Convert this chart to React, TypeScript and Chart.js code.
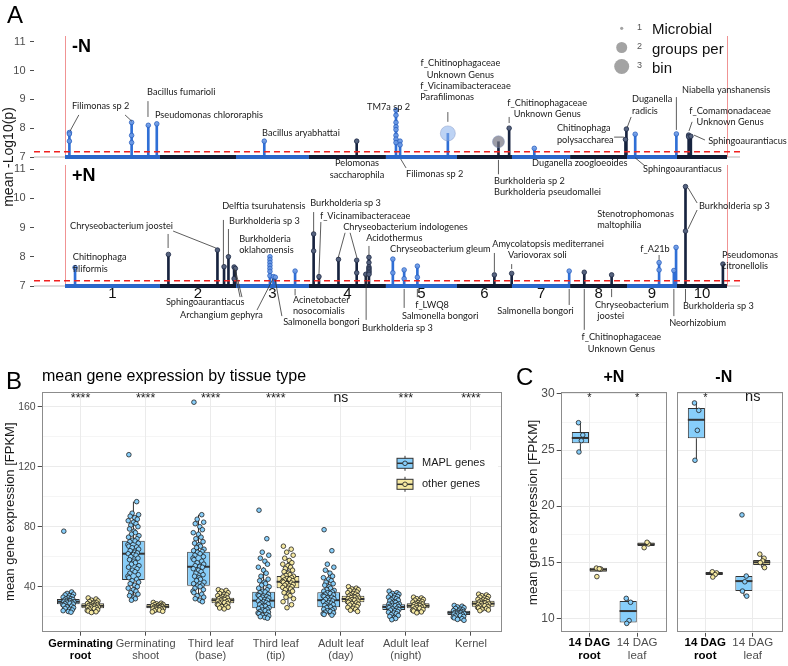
import React, { useEffect, useRef } from 'react';
import { Chart, registerables } from 'chart.js';

Chart.register(...registerables);

const SANS = '"Liberation Sans", Arial, Helvetica, sans-serif';
const ANNOT_FAMILY = 'Lato, "Open Sans", sans-serif';
const ANNOT_SIZE = 9.2;
const ANNOT_LINE = 11.5;

// ================= Panel A data =================
const CHR_NAMES = ['1', '2', '3', '4', '5', '6', '7', '8', '9', '10'];
const CHR_LENGTHS_MB = [302, 242, 232, 245, 226, 175, 185, 181, 159, 159];
const LOG_P_THRESHOLD = 7.18;
const LOG_P_TICKS = [7, 8, 9, 10, 11];
const GROUP_LEGEND = [1, 2, 3];

// -N peaks: cumulative genome position (Mb), -log10(p) values of the points, microbial groups per bin
const MINUS_N_POS_MB = [14, 212, 265, 292, 634, 928, 1053, 1066, 1218, 1379, 1413, 1493, 1783, 1786, 1814, 1945, 1984, 1991];
const MINUS_N_LOGP = [
  [7.85, 7.8, 7.55], [8.2, 7.75, 7.5], [8.1], [8.15], [7.55], [7.55],
  [8.63, 8.45, 8.2, 8.05, 7.95, 7.75, 7.62, 7.5], [7.55, 7.42], [7.82], [7.53], [8.0], [7.3],
  [7.61], [7.97], [7.79], [7.8], [7.76, 7.7], [7.72],
];
const MINUS_N_GROUPS = [1, 1, 1, 1, 1, 1, 1, 1, 3, 2, 1, 1, 1, 1, 1, 1, 1, 1];

// +N peaks
const PLUS_N_POS_MB = [32, 329, 485, 506, 520, 538, 542, 652, 663, 669, 732, 791, 808, 870, 928, 957, 967, 1043, 1079, 1121, 1366, 1421, 1604, 1652, 1739, 1890, 1937, 1944, 1974, 2093];
const PLUS_N_LOGP = [
  [7.63], [8.08], [8.23], [7.66], [8.0], [7.65, 7.25], [7.6],
  [8.0, 7.9, 7.8, 7.7, 7.6, 7.5, 7.35], [7.32], [7.3], [7.51], [8.78, 8.2], [7.32], [7.91],
  [7.88, 7.45], [7.4], [7.98, 7.8, 7.65, 7.6, 7.55, 7.5, 7.45, 7.4], [7.92, 7.45], [7.55, 7.25],
  [7.68, 7.3], [7.38], [7.43], [7.51], [7.47], [7.38], [7.8, 7.55], [7.53], [8.32], [10.4, 8.88], [7.75],
];
const PLUS_N_GROUPS = PLUS_N_POS_MB.map(() => 1);

type Label = { t: string[]; x: number; y: number; a?: string; ld?: number[][] };

// annotation texts (anchored in data units: Mb, -log10 p)
const MINUS_N_LABELS: Label[] = [
  { t: ['Filimonas sp 2'], x: 22, y: 8.77, ld: [[44, 8.46, 16, 7.9], [191, 8.46, 213, 8.24]] },
  { t: ['Bacillus fumarioli'], x: 261, y: 9.26, ld: [[264, 8.94, 264, 8.39]] },
  { t: ['Pseudomonas chlororaphis'], x: 286, y: 8.46 },
  { t: ['Bacillus aryabhattai'], x: 627, y: 7.83 },
  { t: ['Pelomonas', 'saccharophila'], x: 929, y: 6.79, a: 'center' },
  { t: ['TM7a sp 2'], x: 961, y: 8.74 },
  { t: ['Filimonas sp 2'], x: 1085, y: 6.41, ld: [[1068, 6.93, 1085, 6.62]] },
  { t: ['f_Chitinophagaceae', 'Unknown Genus'], x: 1258, y: 10.26, a: 'center' },
  { t: ['f_Vicinamibacteraceae', 'Parafilimonas'], x: 1130, y: 9.47, ld: [[1218, 8.56, 1218, 8.22]] },
  { t: ['Burkholderia sp 2', 'Burkholderia pseudomallei'], x: 1365, y: 6.17, ld: [[1379, 6.9, 1379, 6.4]] },
  { t: ['f_Chitinophagaceae', 'Unknown Genus'], x: 1534, y: 8.875, a: 'center', ld: [[1413, 8.39, 1413, 8.18]] },
  { t: ['Duganella zoogloeoides'], x: 1486, y: 6.79 },
  { t: ['Chitinophaga', 'polysaccharea'], x: 1565, y: 8.0, ld: [[1747, 7.69, 1778, 7.69]] },
  { t: ['Duganella', 'radicis'], x: 1804, y: 9.01, ld: [[1801, 8.39, 1789, 8.04]] },
  { t: ['Sphingoaurantiacus'], x: 1839, y: 6.58, ld: [[1814, 6.97, 1845, 6.69]] },
  { t: ['Niabella yanshanensis'], x: 1963, y: 9.33, ld: [[1945, 9.08, 1945, 7.94]] },
  { t: ['f_Comamonadaceae', 'Unknown Genus'], x: 2116, y: 8.6, a: 'center', ld: [[1995, 8.22, 1985, 7.9]] },
  { t: ['Sphingoaurantiacus'], x: 2046, y: 7.56, ld: [[2001, 7.76, 2036, 7.59]] },
];

const PLUS_N_LABELS: Label[] = [
  { t: ['Chitinophaga', 'filiformis'], x: 25, y: 7.99 },
  { t: ['Chryseobacterium joostei'], x: 16, y: 9.05, ld: [[328, 8.78, 328, 8.3], [344, 8.88, 480, 8.3]] },
  { t: ['Delftia tsuruhatensis'], x: 500, y: 9.74, ld: [[504, 9.26, 504, 7.72]] },
  { t: ['Burkholderia sp 3'], x: 522, y: 9.23, ld: [[520, 8.95, 520, 8.06]] },
  { t: ['Sphingoaurantiacus'], x: 321, y: 6.45, ld: [[538, 7.6, 557, 6.62], [542, 7.55, 563, 6.62]] },
  { t: ['Burkholderia', 'oklahomensis'], x: 554, y: 8.61 },
  { t: ['Archangium gephyra'], x: 366, y: 6.0, ld: [[611, 6.18, 662, 7.25]] },
  { t: ['Salmonella bongori'], x: 694, y: 5.77, ld: [[690, 5.97, 668, 7.25]] },
  { t: ['Acinetobacter', 'nosocomialis'], x: 725, y: 6.52, ld: [[732, 6.9, 732, 6.68]] },
  { t: ['Burkholderia sp 3'], x: 780, y: 9.84, ld: [[791, 9.53, 791, 8.85]] },
  { t: ['f_Vicinamibacteraceae'], x: 811, y: 9.4, ld: [[814, 9.19, 808, 7.4]] },
  { t: ['Chryseobacterium indologenes'], x: 885, y: 9.02, ld: [[891, 8.82, 869, 7.96], [907, 8.82, 929, 7.96]] },
  { t: ['Acidothermus'], x: 958, y: 8.64, ld: [[967, 8.37, 967, 8.06]] },
  { t: ['Burkholderia sp 3'], x: 945, y: 5.56, ld: [[958, 7.38, 958, 5.84]] },
  { t: ['Chryseobacterium gleum'], x: 1034, y: 8.27 },
  { t: ['Salmonella bongori'], x: 1072, y: 5.97, ld: [[1079, 6.9, 1079, 6.25]] },
  { t: ['f_LWQ8'], x: 1114, y: 6.35, ld: [[1121, 6.9, 1121, 6.62]] },
  { t: ['Amycolatopsis mediterranei'], x: 1359, y: 8.44, ld: [[1366, 8.13, 1366, 7.48]] },
  { t: ['Variovorax soli'], x: 1409, y: 8.06, ld: [[1421, 7.75, 1421, 7.58]] },
  { t: ['Salmonella bongori'], x: 1375, y: 6.14, ld: [[1604, 6.9, 1604, 6.35]] },
  { t: ['f_Chitinophagaceae', 'Unknown Genus'], x: 1770, y: 5.25, a: 'center', ld: [[1652, 6.9, 1652, 5.5]] },
  { t: ['Chryseobacterium', ' joostei'], x: 1686, y: 6.35, ld: [[1739, 6.9, 1739, 6.62]] },
  { t: ['f_A21b'], x: 1830, y: 8.27, ld: [[1890, 8.06, 1890, 7.89]] },
  { t: ['Neorhizobium'], x: 1922, y: 5.73, ld: [[1937, 6.9, 1937, 5.97]] },
  { t: ['Stenotrophomonas', 'maltophilia'], x: 1693, y: 9.47 },
  { t: ['Burkholderia sp 3'], x: 2017, y: 9.74, ld: [[2011, 9.84, 1982, 10.36], [2011, 9.6, 1982, 8.95]] },
  { t: ['Burkholderia sp 3'], x: 1966, y: 6.32, ld: [[1974, 6.9, 1974, 6.45]] },
  { t: ['Pseudomonas', 'citronellolis'], x: 2090, y: 8.06 },
];

// ================= Panel B data =================
const TISSUES = [
  ['Germinating', 'root'], ['Germinating', 'shoot'], ['Third leaf', '(base)'], ['Third leaf', '(tip)'],
  ['Adult leaf', '(day)'], ['Adult leaf', '(night)'], ['Kernel'],
];
const TISSUE_SIGNIF = ['****', '****', '****', '****', 'ns', '***', '****'];
const B_Y_TICKS = [20, 40, 60, 80, 100, 120, 140, 160];
// [lower whisker, q1, median, q3, upper whisker]
const MAPL_BOX = [
  [23, 28.3, 30, 31.8, 36.5], [31, 44.5, 62, 70.7, 96.7], [30, 40.7, 53.3, 63.3, 88], [19, 25.6, 30.7, 36.6, 53],
  [21, 26.3, 31, 36.3, 51], [18, 24.5, 26.5, 28.3, 34], [17.6, 21.1, 22.7, 24, 27.5],
];
const OTHER_BOX = [
  [22.8, 25.6, 27.3, 29, 32.5], [23.2, 25.6, 26.7, 28.5, 29.5], [25.2, 28.9, 31, 32.7, 38], [28, 38.9, 43.3, 47.1, 59],
  [23.5, 29.6, 31.8, 34, 40], [22.6, 25.6, 27.3, 29, 33], [24, 26.7, 28.7, 30.7, 35],
];
const MAPL_POINTS = [
  [77, 36.5, 35.5, 35, 34.5, 34, 33.5, 33, 32.5, 32, 31.8, 31.5, 31, 30.8, 30.5, 30.2, 30, 29.8, 29.5, 29.2, 29, 28.7, 28.4, 28, 27.5, 27, 26.5, 26, 25.5, 25, 24.5, 24, 23.5, 23],
  [128, 96.7, 89, 88, 87, 86, 85, 84, 83, 82, 81, 80, 78.5, 77, 76, 75, 74, 73, 72, 71, 70.5, 70, 69, 68, 67, 66.5, 66, 65, 64, 63, 62.5, 62, 61.5, 61, 60, 59, 58, 57, 56, 55, 54, 53, 52, 51, 50, 49, 48, 47, 46, 45, 44, 43, 42, 41, 40, 39, 38, 37, 36, 35, 34, 33, 32, 31],
  [163, 88, 85, 83, 82, 80, 78, 76, 75, 73, 72, 70, 69, 68, 67, 66, 65, 64, 63.5, 63, 62, 61, 60, 59, 58, 57, 56, 55, 54, 53.5, 53, 52, 51, 50, 49, 48, 47, 46, 45, 44, 43, 42, 41, 40.5, 40, 39, 38, 37, 36, 35, 34, 33, 32, 31, 30],
  [91, 72, 63, 61, 59, 57, 55, 53, 51, 49, 47, 45, 44, 43, 42, 41, 40, 39, 38, 37, 36.5, 36, 35, 34.5, 34, 33.5, 33, 32.5, 32, 31.5, 31, 30.5, 30, 29.5, 29, 28.5, 28, 27.5, 27, 26.5, 26, 25.5, 25, 24.5, 24, 23.5, 23, 22.5, 22, 21.5, 21, 20.5, 20, 19.5, 19],
  [78, 64, 55, 53, 51, 49, 47, 46, 45, 44, 43, 42, 41, 40, 39, 38, 37.5, 37, 36.5, 36, 35.5, 35, 34.5, 34, 33.5, 33, 32.5, 32, 31.5, 31, 30.5, 30, 29.5, 29, 28.5, 28, 27.5, 27, 26.5, 26, 25.5, 25, 24.5, 24, 23.5, 23, 22.5, 22, 21.5, 21],
  [37, 36, 35.5, 35, 34.5, 34, 33.5, 33, 32.5, 32, 31.5, 31, 30.5, 30, 29.5, 29, 28.6, 28.3, 28, 27.6, 27.3, 27, 26.7, 26.4, 26, 25.6, 25.2, 24.8, 24.4, 24, 23.5, 23, 22.5, 22, 21.4, 20.8, 20.2, 19.5, 18.8, 18],
  [27.5, 27, 26.5, 26, 25.5, 25, 24.5, 24.1, 23.8, 23.5, 23.2, 23, 22.8, 22.6, 22.4, 22.2, 22, 21.7, 21.4, 21.1, 20.8, 20.5, 20.1, 19.7, 19.2, 18.7, 18.2, 17.6],
];
const OTHER_POINTS = [
  [32.5, 31.8, 31, 30.5, 30, 29.5, 29.2, 28.8, 28.5, 28.2, 28, 27.7, 27.5, 27.2, 27, 26.7, 26.4, 26.2, 26, 25.7, 25.4, 25, 24.6, 24.2, 23.8, 23.3, 22.8],
  [29.5, 29, 28.6, 28.2, 28, 27.7, 27.4, 27.2, 27, 26.8, 26.6, 26.4, 26.2, 26, 25.8, 25.6, 25.4, 25.2, 25, 24.7, 24.4, 24, 23.6, 23.2],
  [38, 37.5, 37, 36, 35.5, 35, 34.5, 34, 33.5, 33, 32.7, 32.4, 32, 31.7, 31.4, 31, 30.7, 30.4, 30, 29.7, 29.4, 29, 28.6, 28.2, 27.8, 27.3, 26.8, 26.3, 25.8, 25.2],
  [67, 65, 63, 61, 59, 57.5, 56, 55, 54, 53, 52, 51, 50, 49, 48, 47.5, 47, 46.5, 46, 45.5, 45, 44.5, 44, 43.5, 43, 42.5, 42, 41.5, 41, 40.5, 40, 39.5, 39, 38.5, 38, 37, 36, 35, 34, 33, 32, 30, 28, 26],
  [40, 39, 38.5, 38, 37.5, 37, 36.5, 36, 35.5, 35, 34.5, 34, 33.7, 33.4, 33, 32.7, 32.4, 32, 31.7, 31.4, 31, 30.7, 30.4, 30, 29.6, 29.2, 28.8, 28.3, 27.8, 27.3, 26.8, 26.2, 25.6, 25, 24.3, 23.5],
  [33, 32.5, 32, 31.5, 31, 30.6, 30.2, 29.8, 29.4, 29, 28.7, 28.4, 28.1, 27.8, 27.5, 27.2, 26.9, 26.6, 26.3, 26, 25.6, 25.2, 24.8, 24.3, 23.8, 23.2, 22.6],
  [35, 34.5, 34, 33.5, 33, 32.5, 32, 31.6, 31.2, 30.8, 30.4, 30, 29.7, 29.4, 29.1, 28.8, 28.5, 28.2, 27.9, 27.6, 27.3, 27, 26.6, 26.2, 25.8, 25.4, 25, 24.5, 24],
];

// ================= Panel C data =================
const DAG_TISSUES = [['14 DAG', 'root'], ['14 DAG', 'leaf']];
const PLUS_N_SIGNIF = ['*', '*'];
const MINUS_N_SIGNIF = ['*', 'ns'];
const C_Y_TICKS = [10, 12.5, 15, 17.5, 20, 22.5, 25, 27.5, 30];
const C_PLUS_MAPL_BOX = [[24.83, 25.6, 26.08, 26.6, 27.44], [9.55, 9.64, 10.65, 11.55, 11.78]];
const C_PLUS_OTHER_BOX = [[14.16, 14.16, 14.34, 14.5, 14.5], [16.45, 16.45, 16.6, 16.75, 16.75]];
const C_MINUS_MAPL_BOX = [[24.09, 26.05, 27.7, 28.74, 29.2], [11.98, 12.43, 13.32, 13.77, 13.77]];
const C_MINUS_OTHER_BOX = [[13.86, 13.86, 14.0, 14.14, 14.14], [14.52, 14.76, 15.0, 15.21, 15.72]];
const C_PLUS_MAPL_PTS = [[27.44, 26.34, 25.84, 24.83], [11.78, 11.43, 9.8, 9.55]];
const C_PLUS_OTHER_PTS = [[14.48, 14.4, 14.42, 13.72], [16.3, 16.63, 16.78]];
const C_MINUS_MAPL_PTS = [[29.2, 28.54, 26.76, 24.09], [19.22, 13.77, 13.26, 12.43, 11.98]];
const C_MINUS_OTHER_PTS = [[14.15, 14.05, 13.9, 13.68], [15.72, 15.36, 15.12, 14.97, 14.52]];

// ================= layout / style =================
const B_JITTER = [-0.07, 0.05, -0.02, 0.08, -0.05, 0.02, 0.06, -0.08, 0.0, 0.04, -0.04, 0.07, -0.06, 0.01, 0.03, -0.03, 0.085, -0.075, 0.055, -0.015, 0.025, -0.055, 0.075, -0.085];
const C_JITTER = [-0.04, 0.05, 0.02, -0.03, 0.06, -0.06];
const DODGE = 0.1875;

const STEM_BLUE = '#2f6fd6';
const STEM_NAVY = '#17233f';
const PT_BLUE = 'rgba(110,155,230,0.9)';
const PT_NAVY = '#56637f';
const CHR_BLUE = '#2b67c9';
const CHR_NAVY = '#111b33';
const MAPL_FILL = '#87CEFA';
const OTHER_FILL = '#F6E9A2';
const POINT_EDGE = '#1f1f1f';

const CHR_STARTS: number[] = [];
let acc0 = 0;
CHR_LENGTHS_MB.forEach((l) => { CHR_STARTS.push(acc0); acc0 += l; });
const GENOME_MB = acc0;

function chrIndex(mb: number) {
  for (let i = CHR_STARTS.length - 1; i >= 0; i--) if (mb >= CHR_STARTS[i]) return i;
  return 0;
}

function line(ctx: any, x1: number, y1: number, x2: number, y2: number) {
  ctx.beginPath();
  ctx.moveTo(x1, y1);
  ctx.lineTo(x2, y2);
  ctx.stroke();
}

function manhattanPlugin(p: { title: string; labels: Label[]; isTop: boolean }) {
  return {
    id: 'manhattan',
    beforeDatasetsDraw(chart: any) {
      const { ctx, chartArea: ca, scales } = chart;
      const xs = scales.x, ys = scales.y;
      const y7 = ys.getPixelForValue(7);
      ctx.save();
      ctx.lineWidth = 1;
      ctx.strokeStyle = '#b5b5b5';
      line(ctx, ca.left, y7, ca.right, y7);
      ctx.strokeStyle = 'rgba(236,120,120,0.8)';
      [0, GENOME_MB].forEach((v) => {
        const px = Math.round(xs.getPixelForValue(v)) + 0.5;
        line(ctx, px, ca.top, px, ca.bottom);
      });
      ctx.restore();
    },
    afterDatasetsDraw(chart: any) {
      const { ctx, chartArea: ca, scales } = chart;
      const xs = scales.x, ys = scales.y;
      const y7 = ys.getPixelForValue(7);
      ctx.save();
      ctx.lineWidth = 4;
      ctx.lineCap = 'butt';
      CHR_LENGTHS_MB.forEach((len, i) => {
        ctx.strokeStyle = i % 2 === 0 ? CHR_BLUE : CHR_NAVY;
        line(ctx, xs.getPixelForValue(CHR_STARTS[i]), y7, xs.getPixelForValue(CHR_STARTS[i] + len), y7);
      });
      ctx.setLineDash([6, 4]);
      ctx.lineWidth = 1.5;
      ctx.strokeStyle = '#f02020';
      const yt = ys.getPixelForValue(LOG_P_THRESHOLD);
      line(ctx, ca.left, yt, ca.right, yt);
      ctx.restore();
    },
    afterDraw(chart: any) {
      const { ctx, chartArea: ca, scales } = chart;
      const xs = scales.x, ys = scales.y;
      ctx.save();
      // annotations
      ctx.font = `${ANNOT_SIZE}px ${ANNOT_FAMILY}`;
      ctx.fillStyle = '#1a1a1a';
      ctx.textBaseline = 'middle';
      ctx.strokeStyle = '#333';
      ctx.lineWidth = 0.8;
      p.labels.forEach((l) => {
        const px = xs.getPixelForValue(l.x);
        const py = ys.getPixelForValue(l.y);
        ctx.textAlign = l.a === 'center' ? 'center' : 'left';
        l.t.forEach((s, k) => ctx.fillText(s, px, py + k * ANNOT_LINE));
        (l.ld || []).forEach((d) => line(ctx, xs.getPixelForValue(d[0]), ys.getPixelForValue(d[1]), xs.getPixelForValue(d[2]), ys.getPixelForValue(d[3])));
      });
      // panel title
      ctx.textAlign = 'left';
      ctx.fillStyle = '#000';
      ctx.font = `bold 18px ${SANS}`;
      ctx.fillText(p.title, ca.left + 38, ca.top + 11);
      if (!p.isTop) {
        ctx.font = `15px ${SANS}`;
        ctx.fillStyle = '#111';
        ctx.textAlign = 'center';
        CHR_NAMES.forEach((n, i) => {
          const mid = CHR_STARTS[i] + CHR_LENGTHS_MB[i] / 2;
          ctx.fillText(n, xs.getPixelForValue(mid), ca.bottom + 8);
        });
      } else {
        // panel letter
        ctx.font = `24px ${SANS}`;
        ctx.fillStyle = '#000';
        ctx.textAlign = 'left';
        ctx.fillText('A', 7, 16);
        // y title
        ctx.save();
        ctx.translate(9, 157);
        ctx.rotate(-Math.PI / 2);
        ctx.textAlign = 'center';
        ctx.font = `14px ${SANS}`;
        ctx.fillStyle = '#1a1a1a';
        ctx.fillText('mean -Log10(p)', 0, 0);
        ctx.restore();
        // size legend
        const radii = [1.6, 5.5, 7.5];
        const ly = [28.3, 47.5, 66.5];
        const lt = ['Microbial', 'groups per', 'bin'];
        GROUP_LEGEND.forEach((g, i) => {
          ctx.fillStyle = '#a3a3a3';
          ctx.beginPath();
          ctx.arc(621.7, ly[i], radii[i], 0, Math.PI * 2);
          ctx.fill();
          ctx.fillStyle = '#555';
          ctx.font = `9px ${SANS}`;
          ctx.textAlign = 'center';
          ctx.fillText(String(g), 639.5, ly[i] - 1);
          ctx.fillStyle = '#111';
          ctx.font = `15px ${SANS}`;
          ctx.textAlign = 'left';
          ctx.fillText(lt[i], 652, ly[i] + 2);
        });
      }
      ctx.restore();
    },
  };
}

function manhattanConfig(pos: number[], vals: number[][], groups: number[], labels: Label[], o: { title: string; yMax: number; isTop: boolean; padding: any; xMin: number; xMax: number }) {
  const stems = pos.map((p, i) => ({ x: p, y: [7, Math.max(...vals[i])] }));
  const pts: any[] = [];
  pos.forEach((p, i) => vals[i].forEach((v) => pts.push({ x: p, y: v, g: groups[i] })));
  const isBlue = (raw: any) => !raw || chrIndex(raw.x) % 2 === 0;
  return {
    type: 'bar',
    data: {
      datasets: [
        {
          type: 'bar', data: stems, barThickness: 2, borderWidth: 0, order: 2,
          backgroundColor: (c: any) => (isBlue(c.raw) ? STEM_BLUE : STEM_NAVY),
        },
        {
          type: 'scatter', data: pts, order: 1,
          pointRadius: (c: any) => (c.raw && c.raw.g === 3 ? 7.5 : c.raw && c.raw.g === 2 ? 6 : 2.3),
          pointBackgroundColor: (c: any) => (c.raw && c.raw.g === 3 ? 'rgba(135,175,235,0.55)' : c.raw && c.raw.g === 2 ? 'rgba(115,115,130,0.7)' : isBlue(c.raw) ? PT_BLUE : PT_NAVY),
          pointBorderColor: (c: any) => (c.raw && c.raw.g > 1 ? 'rgba(120,140,190,0.5)' : isBlue(c.raw) ? '#2a5fbf' : '#1e2a45'),
          pointBorderWidth: 0.8,
        },
      ],
    },
    options: {
      responsive: false, animation: false, events: [],
      layout: { padding: o.padding },
      plugins: { legend: { display: false }, tooltip: { enabled: false } },
      scales: {
        x: { type: 'linear', display: false, min: o.xMin, max: o.xMax, offset: false, grid: { offset: false } },
        y: {
          type: 'linear', min: 7, max: o.yMax, beginAtZero: false,
          afterBuildTicks: (s: any) => { s.ticks = LOG_P_TICKS.map((v) => ({ value: v })); },
          afterFit: (s: any) => { s.width = 34; },
          ticks: { font: { family: SANS, size: 11 }, color: '#4d4d4d', padding: 4.5, callback: (v: any) => String(v) },
          grid: { drawOnChartArea: false, drawTicks: true, tickLength: 4, tickColor: '#4d4d4d', tickWidth: 1 },
          border: { display: false },
        },
      },
    },
    plugins: [manhattanPlugin({ title: o.title, labels, isTop: o.isTop })],
  };
}

function pointsFor(pts: number[][], side: number, jitter: number[]) {
  const out: any[] = [];
  pts.forEach((vals, i) => vals.forEach((v, j) => out.push({ x: i + 1 + side + jitter[j % jitter.length], y: v })));
  return out;
}

function boxPlugin(boxes: number[][][], extra: (chart: any) => void, legend?: (chart: any) => void) {
  return {
    id: 'boxes',
    afterDatasetDraw(chart: any, args: any) {
      const meta = args.meta;
      if (meta.type !== 'bar') return;
      const stats = boxes[args.index];
      if (!stats) return;
      const { ctx } = chart;
      const ys = chart.scales.y;
      ctx.save();
      ctx.strokeStyle = '#333';
      meta.data.forEach((bar: any, i: number) => {
        const s = stats[i];
        const cx = bar.x, w = bar.width;
        ctx.lineWidth = 1;
        if (s[0] < s[1]) line(ctx, cx, ys.getPixelForValue(s[0]), cx, ys.getPixelForValue(s[1]));
        if (s[4] > s[3]) line(ctx, cx, ys.getPixelForValue(s[3]), cx, ys.getPixelForValue(s[4]));
        ctx.lineWidth = 2;
        const ym = ys.getPixelForValue(s[2]);
        line(ctx, cx - w / 2, ym, cx + w / 2, ym);
      });
      ctx.restore();
    },
    afterDatasetsDraw(chart: any) {
      if (legend) legend(chart);
    },
    afterDraw(chart: any) {
      const { ctx, chartArea: ca } = chart;
      ctx.save();
      ctx.strokeStyle = '#8c8c8c';
      ctx.lineWidth = 1;
      ctx.strokeRect(Math.round(ca.left) + 0.5, Math.round(ca.top) + 0.5, Math.round(ca.right - ca.left) - 1, Math.round(ca.bottom - ca.top) - 1);
      ctx.restore();
      extra(chart);
    },
  };
}

function drawSignif(chart: any, marks: string[], starSize: number, nsSize: number, dy: number) {
  const { ctx, chartArea: ca, scales } = chart;
  ctx.save();
  ctx.fillStyle = '#1a1a1a';
  ctx.textAlign = 'center';
  ctx.textBaseline = 'middle';
  marks.forEach((m, i) => {
    const px = scales.x.getPixelForValue(i + 1);
    if (m === 'ns') {
      ctx.font = `${nsSize}px ${SANS}`;
      ctx.fillText(m, px, ca.top + dy + 1);
    } else {
      ctx.font = `${starSize}px ${SANS}`;
      ctx.fillText(m, px, ca.top + dy + 2);
    }
  });
  ctx.restore();
}

function boxConfig(o: any) {
  return {
    type: 'bar',
    data: {
      datasets: [
        { type: 'bar', data: o.maplBox.map((s: number[], i: number) => ({ x: i + 1, y: [s[1], s[3]] })), backgroundColor: MAPL_FILL, borderColor: '#333', borderWidth: 1, borderSkipped: false, categoryPercentage: 0.75, barPercentage: o.barPct, order: 2 },
        { type: 'bar', data: o.otherBox.map((s: number[], i: number) => ({ x: i + 1, y: [s[1], s[3]] })), backgroundColor: OTHER_FILL, borderColor: '#333', borderWidth: 1, borderSkipped: false, categoryPercentage: 0.75, barPercentage: o.barPct, order: 2 },
        { type: 'scatter', data: pointsFor(o.maplPts, -DODGE, o.jitter), pointRadius: 2.3, pointBackgroundColor: MAPL_FILL, pointBorderColor: POINT_EDGE, pointBorderWidth: 0.8, order: 1 },
        { type: 'scatter', data: pointsFor(o.otherPts, DODGE, o.jitter), pointRadius: 2.3, pointBackgroundColor: OTHER_FILL, pointBorderColor: POINT_EDGE, pointBorderWidth: 0.8, order: 0 },
      ],
    },
    options: {
      responsive: false, animation: false, events: [],
      layout: { padding: o.padding },
      plugins: { legend: { display: false }, tooltip: { enabled: false } },
      scales: {
        x: {
          type: 'linear', min: o.xMin, max: o.xMax, offset: false,
          afterBuildTicks: (s: any) => { s.ticks = o.cats.map((_: any, i: number) => ({ value: i + 1 })); },
          afterFit: (s: any) => { s.height = o.xHeight; },
          ticks: {
            autoSkip: false, maxRotation: 0, minRotation: 0, padding: o.xPad,
            callback: (v: any) => o.cats[Math.round(v) - 1],
            font: (c: any) => ({ family: SANS, size: o.xFont, lineHeight: 1.1, weight: c.index === 0 ? 'bold' : 'normal' }),
            color: (c: any) => (c.index === 0 ? '#000' : '#4d4d4d'),
          },
          grid: { offset: false, color: '#ebebeb', lineWidth: 1, drawTicks: true, tickLength: 4, tickColor: '#4d4d4d', tickWidth: 1 },
          border: { display: false },
        },
        y: {
          type: 'linear', min: o.yMin, max: o.yMax, beginAtZero: false,
          afterBuildTicks: (s: any) => { s.ticks = o.yTicks.map((v: number) => ({ value: v })); },
          afterFit: (s: any) => { s.width = o.yWidth; },
          ticks: { display: o.showY, padding: 2, font: { family: SANS, size: o.yFont }, color: '#4d4d4d', callback: (v: any) => (o.isMajor(v) ? String(v) : '') },
          grid: {
            color: '#ebebeb', drawTicks: o.showY, tickLength: 4, tickWidth: 1,
            lineWidth: (c: any) => (c.tick && o.isMajor(c.tick.value) ? 1 : 0.5),
            tickColor: (c: any) => (c.tick && o.isMajor(c.tick.value) ? '#4d4d4d' : 'rgba(0,0,0,0)'),
          },
          border: { display: false },
        },
      },
    },
    plugins: [boxPlugin([o.maplBox, o.otherBox], o.extra, o.legend)],
  };
}

function drawKey(ctx: any, cx: number, cy: number, fill: string) {
  ctx.strokeStyle = '#333';
  ctx.lineWidth = 1;
  line(ctx, cx, cy - 7.5, cx, cy + 7.5);
  ctx.fillStyle = fill;
  ctx.fillRect(cx - 8, cy - 5, 16, 10);
  ctx.strokeRect(cx - 8, cy - 5, 16, 10);
  ctx.lineWidth = 1.5;
  line(ctx, cx - 8, cy, cx + 8, cy);
  ctx.beginPath();
  ctx.arc(cx, cy, 2.3, 0, Math.PI * 2);
  ctx.fillStyle = fill;
  ctx.fill();
  ctx.lineWidth = 0.8;
  ctx.strokeStyle = POINT_EDGE;
  ctx.stroke();
}

function yTitle(ctx: any, text: string, x: number, y: number, size: number) {
  ctx.save();
  ctx.translate(x, y);
  ctx.rotate(-Math.PI / 2);
  ctx.textAlign = 'center';
  ctx.textBaseline = 'middle';
  ctx.font = `${size}px ${SANS}`;
  ctx.fillStyle = '#1a1a1a';
  ctx.fillText(text, 0, 0);
  ctx.restore();
}

export default function App() {
  const aTop = useRef<HTMLCanvasElement>(null);
  const aBot = useRef<HTMLCanvasElement>(null);
  const bRef = useRef<HTMLCanvasElement>(null);
  const c1Ref = useRef<HTMLCanvasElement>(null);
  const c2Ref = useRef<HTMLCanvasElement>(null);

  useEffect(() => {
    const X_MIN = -98.6, X_MAX = 2147.4;
    const charts: any[] = [];
    charts.push(new Chart(aTop.current as any, manhattanConfig(MINUS_N_POS_MB, MINUS_N_LOGP, MINUS_N_GROUPS, MINUS_N_LABELS, {
      title: '-N', yMax: 11.2, isTop: true, padding: { top: 36, bottom: 58, left: 0, right: 48 }, xMin: X_MIN, xMax: X_MAX,
    }) as any));
    charts.push(new Chart(aBot.current as any, manhattanConfig(PLUS_N_POS_MB, PLUS_N_LOGP, PLUS_N_GROUPS, PLUS_N_LABELS, {
      title: '+N', yMax: 11.14, isTop: false, padding: { top: 15, bottom: 74, left: 0, right: 48 }, xMin: X_MIN, xMax: X_MAX,
    }) as any));

    charts.push(new Chart(bRef.current as any, boxConfig({
      cats: TISSUES, xMin: 0.403, xMax: 7.472, yMin: 10, yMax: 170, yTicks: B_Y_TICKS, isMajor: (v: number) => v % 40 === 0,
      maplBox: MAPL_BOX, otherBox: OTHER_BOX, maplPts: MAPL_POINTS, otherPts: OTHER_POINTS, jitter: B_JITTER,
      barPct: 0.93, padding: { top: 31.7, bottom: 0, left: 0, right: 10.3 }, yWidth: 41.7, xHeight: 34.3, xPad: 2, xFont: 11, yFont: 10.5, showY: true,
      extra: (chart: any) => {
        const { ctx, chartArea: ca } = chart;
        ctx.save();
        ctx.textBaseline = 'middle';
        ctx.textAlign = 'left';
        ctx.fillStyle = '#000';
        ctx.font = `24px ${SANS}`;
        ctx.fillText('B', 6, 22);
        ctx.font = `16px ${SANS}`;
        ctx.fillText('mean gene expression by tissue type', 42, 16.5);
        ctx.restore();
        yTitle(ctx, 'mean gene expression [FPKM]', 10, (ca.top + ca.bottom) / 2, 13);
        drawSignif(chart, TISSUE_SIGNIF, 12.5, 14, 5);
      },
      legend: (chart: any) => {
        const { ctx } = chart;
        ctx.save();
        ctx.fillStyle = '#fff';
        ctx.fillRect(390, 90, 108, 46);
        drawKey(ctx, 405, 103.3, MAPL_FILL);
        drawKey(ctx, 405, 124.3, OTHER_FILL);
        ctx.fillStyle = '#1a1a1a';
        ctx.font = `11px ${SANS}`;
        ctx.textBaseline = 'middle';
        ctx.textAlign = 'left';
        ctx.fillText('MAPL genes', 422, 103.3);
        ctx.fillText('other genes', 422, 124.3);
        ctx.restore();
      },
    }) as any));

    const facetTitle = (chart: any, t: string, dx: number) => {
      const { ctx, chartArea: ca } = chart;
      ctx.save();
      ctx.font = `bold 16px ${SANS}`;
      ctx.fillStyle = '#000';
      ctx.textAlign = 'center';
      ctx.textBaseline = 'middle';
      ctx.fillText(t, (ca.left + ca.right) / 2 + dx, 17.5);
      ctx.restore();
    };

    charts.push(new Chart(c1Ref.current as any, boxConfig({
      cats: DAG_TISSUES, xMin: 0.4, xMax: 2.63, yMin: 8.72, yMax: 30.15, yTicks: C_Y_TICKS, isMajor: (v: number) => v % 5 === 0,
      maplBox: C_PLUS_MAPL_BOX, otherBox: C_PLUS_OTHER_BOX, maplPts: C_PLUS_MAPL_PTS, otherPts: C_PLUS_OTHER_PTS, jitter: C_JITTER,
      barPct: 0.96, padding: { top: 32.3, bottom: 0, left: 0, right: 2.7 }, yWidth: 48.7, xHeight: 33.3, xPad: 0, xFont: 11.5, yFont: 12, showY: true,
      extra: (chart: any) => {
        const { ctx, chartArea: ca } = chart;
        ctx.save();
        ctx.textBaseline = 'middle';
        ctx.fillStyle = '#000';
        ctx.font = `24px ${SANS}`;
        ctx.fillText('C', 4, 18);
        ctx.restore();
        yTitle(ctx, 'mean gene expression [FPKM]', 21.5, (ca.top + ca.bottom) / 2, 13.5);
        facetTitle(chart, '+N', 0);
        drawSignif(chart, PLUS_N_SIGNIF, 11, 14.5, 4);
      },
    }) as any));

    charts.push(new Chart(c2Ref.current as any, boxConfig({
      cats: DAG_TISSUES, xMin: 0.4, xMax: 2.63, yMin: 8.72, yMax: 30.15, yTicks: C_Y_TICKS, isMajor: (v: number) => v % 5 === 0,
      maplBox: C_MINUS_MAPL_BOX, otherBox: C_MINUS_OTHER_BOX, maplPts: C_MINUS_MAPL_PTS, otherPts: C_MINUS_OTHER_PTS, jitter: C_JITTER,
      barPct: 0.96, padding: { top: 32.3, bottom: 0, left: 2.3, right: 5.3 }, yWidth: 0, xHeight: 33.3, xPad: 0, xFont: 11.5, yFont: 12, showY: false,
      extra: (chart: any) => {
        facetTitle(chart, '-N', -6);
        drawSignif(chart, MINUS_N_SIGNIF, 11, 14.5, 4);
      },
    }) as any));

    return () => charts.forEach((c) => c.destroy());
  }, []);

  const abs = (l: number, t: number): any => ({ position: 'absolute', left: l, top: t });
  return (
    <div style={{ position: 'absolute', left: 0, top: 0, width: 788, height: 666, background: '#fff', overflow: 'hidden' }}>
      <canvas ref={aTop} width={788} height={215} style={abs(0, 0)} />
      <canvas ref={aBot} width={788} height={210} style={abs(0, 150)} />
      <canvas ref={bRef} width={512} height={306} style={abs(0, 360)} />
      <canvas ref={c1Ref} width={160} height={306} style={abs(512, 360)} />
      <canvas ref={c2Ref} width={116} height={306} style={abs(672, 360)} />
    </div>
  );
}
